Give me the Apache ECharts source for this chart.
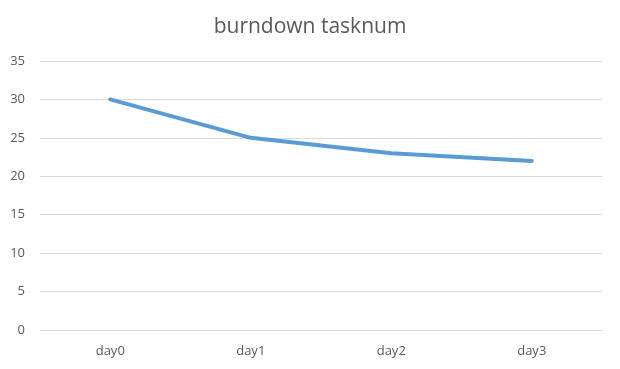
<!DOCTYPE html>
<html><head><meta charset="utf-8">
<script src="https://cdn.jsdelivr.net/npm/echarts@6/dist/echarts.min.js"></script>
<style>html,body{margin:0;padding:0;background:#fff}#c{width:620px;height:369px}</style>
</head><body><div id="c"></div>
<script>
var categories = ['day0', 'day1', 'day2', 'day3'];
var taskValues = [30, 25, 23, 22];
var yTicks = [0, 5, 10, 15, 20, 25, 30, 35];

var chart = echarts.init(document.getElementById('c'), null, {renderer: 'canvas'});
chart.setOption({
  animation: false,
  backgroundColor: '#ffffff',
  title: {
    text: 'burndown tasknum',
    left: 'center',
    top: 12,
    textStyle: {fontFamily: '"Open Sans", "Noto Sans", sans-serif', fontSize: 21, fontWeight: 'normal', color: '#595959'}
  },
  grid: {left: 40, right: 18, top: 61, bottom: 39, containLabel: false},
  xAxis: {
    type: 'category',
    data: categories,
    boundaryGap: true,
    axisLine: {show: true, lineStyle: {color: '#d9d9d9'}},
    axisTick: {show: false},
    axisLabel: {color: '#595959', fontSize: 13, margin: 15, fontFamily: '"Open Sans", "Noto Sans", sans-serif'}
  },
  yAxis: {
    type: 'value',
    min: yTicks[0],
    max: yTicks[yTicks.length - 1],
    interval: 5,
    axisLine: {show: false},
    axisTick: {show: false},
    splitLine: {lineStyle: {color: '#d9d9d9', width: 1}},
    axisLabel: {color: '#595959', fontSize: 13, margin: 15, fontFamily: '"Open Sans", "Noto Sans", sans-serif'}
  },
  series: [{
    type: 'line',
    data: taskValues,
    symbol: 'none',
    lineStyle: {color: '#5b9bd5', width: 4, cap: 'round', join: 'round'}
  }]
});
</script></body></html>
